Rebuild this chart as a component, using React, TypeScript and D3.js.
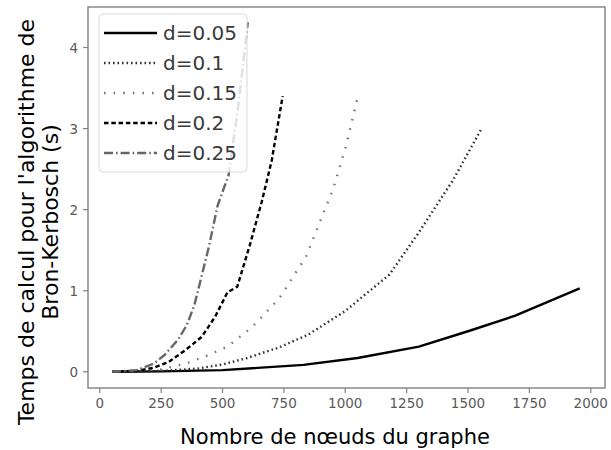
import React from "react";
import * as d3 from "d3";

const seriesNames = ["d=0.05", "d=0.1", "d=0.15", "d=0.2", "d=0.25"];

const x005 = [50, 250, 500, 830, 1050, 1300, 1500, 1690, 1955];
const y005 = [0, 0.005, 0.02, 0.085, 0.17, 0.31, 0.5, 0.69, 1.03];

const x010 = [50, 250, 400, 500, 600, 730, 850, 1000, 1180, 1300, 1440, 1555];
const y010 = [0, 0.01, 0.04, 0.09, 0.17, 0.3, 0.46, 0.75, 1.2, 1.72, 2.37, 3.0];

const x015 = [50, 250, 350, 430, 520, 620, 730, 840, 950, 1000, 1050];
const y015 = [0, 0.03, 0.1, 0.19, 0.31, 0.55, 0.9, 1.42, 2.25, 2.75, 3.38];

const x020 = [50, 150, 220, 280, 350, 415, 470, 520, 560, 610, 660, 700, 745];
const y020 = [0, 0.01, 0.05, 0.12, 0.27, 0.43, 0.68, 0.98, 1.05, 1.55, 2.1, 2.6, 3.4];

const x025 = [50, 150, 220, 265, 320, 355, 385, 410, 445, 480, 525, 565, 603];
const y025 = [0, 0.02, 0.1, 0.21, 0.4, 0.58, 0.82, 1.12, 1.55, 2.05, 2.43, 3.3, 4.31];

const xTicks = [0, 250, 500, 750, 1000, 1250, 1500, 1750, 2000];
const yTicks = [0, 1, 2, 3, 4];

const xLabel = "Nombre de nœuds du graphe";
const yLabel1 = "Temps de calcul pour l'algorithme de";
const yLabel2 = "Bron-Kerbosch (s)";

const styles = [
  { color: "#000", width: 2.4, dash: "none" },
  { color: "#333", width: 2.4, dash: "1.6,2.9" },
  { color: "#777", width: 2.4, dash: "1.6,8" },
  { color: "#000", width: 2.4, dash: "4.5,2.8" },
  { color: "#666", width: 2.4, dash: "9,3,1.6,3" },
];

export default function App() {
  const W = 611, H = 450;
  const left = 88, right = 605, top = 7, bottom = 388;
  const x = d3.scaleLinear().domain([-48, 2058]).range([left, right]);
  const y = d3.scaleLinear().domain([-0.2, 4.5]).range([bottom, top]);
  const line = d3.line<[number, number]>().x(d => x(d[0])).y(d => y(d[1]));
  const data: [number, number][][] = [
    x005.map((v, i) => [v, y005[i]]),
    x010.map((v, i) => [v, y010[i]]),
    x015.map((v, i) => [v, y015[i]]),
    x020.map((v, i) => [v, y020[i]]),
    x025.map((v, i) => [v, y025[i]]),
  ];
  const font = "DejaVu Sans, sans-serif";
  const axisColor = "#808080";
  const tickText = "#5a5a5a";
  const legX = 99, legY = 14, legW = 148, legH = 158;
  return (
    <svg width={W} height={H} style={{ position: "absolute", left: 0, top: 0, background: "#fff" }} fontFamily={font}>
      <rect x={0} y={0} width={W} height={H} fill="#fff" />
      <defs>
        <clipPath id="plot">
          <rect x={left} y={top} width={right - left} height={bottom - top} />
        </clipPath>
      </defs>
      <g clipPath="url(#plot)">
        {data.map((d, i) => (
          <path key={i} d={line(d) || ""} fill="none" stroke={styles[i].color} strokeWidth={styles[i].width}
            strokeDasharray={styles[i].dash} strokeLinejoin="round" />
        ))}
      </g>
      <rect x={left} y={top} width={right - left} height={bottom - top} fill="none" stroke={axisColor} strokeWidth={1.4} />
      {xTicks.map(t => (
        <g key={t}>
          <line x1={x(t)} x2={x(t)} y1={bottom} y2={bottom + 5} stroke={axisColor} strokeWidth={1.2} />
          <text x={x(t)} y={bottom + 20} textAnchor="middle" fontSize={13.5} fill={tickText}>{t}</text>
        </g>
      ))}
      {yTicks.map(t => (
        <g key={t}>
          <line x1={left - 5} x2={left} y1={y(t)} y2={y(t)} stroke={axisColor} strokeWidth={1.2} />
          <text x={left - 10} y={y(t) + 5} textAnchor="end" fontSize={13.5} fill={tickText}>{t}</text>
        </g>
      ))}
      <text x={335} y={444} textAnchor="middle" fontSize={21} fill="#000">{xLabel}</text>
      <text transform={`translate(34, 222) rotate(-90)`} textAnchor="middle" fontSize={22} fill="#000">{yLabel1}</text>
      <text transform={`translate(58, 222) rotate(-90)`} textAnchor="middle" fontSize={22} fill="#000">{yLabel2}</text>
      <rect x={legX} y={legY} width={legW} height={legH} rx={4} fill="#fff" fillOpacity={0.8} stroke="#d8d8d8" strokeWidth={1} />
      {seriesNames.map((n, i) => {
        const ry = 33 + i * 30;
        return (
          <g key={n}>
            <line x1={104} x2={157} y1={ry} y2={ry} stroke={styles[i].color} strokeWidth={styles[i].width}
              strokeDasharray={styles[i].dash} />
            <text x={163} y={ry + 7} fontSize={20} fill="#3a3a3a">{n}</text>
          </g>
        );
      })}
    </svg>
  );
}
